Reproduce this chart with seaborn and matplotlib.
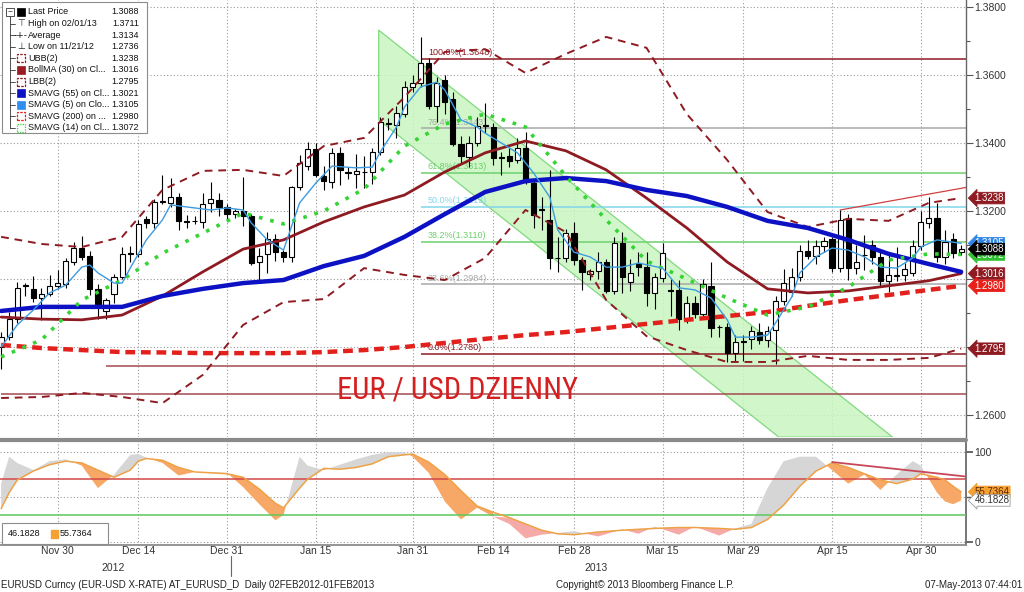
import numpy as np
import pandas as pd
import seaborn as sns
import matplotlib.pyplot as plt
from matplotlib import font_manager
from matplotlib.lines import Line2D
from matplotlib.patches import Rectangle
from matplotlib.ticker import FuncFormatter
import matplotlib.transforms as mtransforms

# trading days on the chart (Bloomberg keeps every weekday)
dates = pd.bdate_range('2012-11-21', '2013-05-07')

open_ = [1.2800, 1.2829, 1.2882, 1.2982, 1.2971, 1.2945, 1.2956, 1.2978, 1.2985, 1.3050,
         1.3091, 1.3068, 1.2971, 1.2906, 1.2956, 1.3006, 1.3076, 1.3073, 1.3177, 1.3165,
         1.3227, 1.3223, 1.3241, 1.3171, 1.3170, 1.3168, 1.3223, 1.3232, 1.3212, 1.3191,
         1.3200, 1.3185, 1.3050, 1.3073, 1.3118, 1.3079, 1.3065, 1.3271, 1.3332, 1.3382,
         1.3303, 1.3285, 1.3371, 1.3315, 1.3309, 1.3316, 1.3315, 1.3374, 1.3456, 1.3453,
         1.3485, 1.3565, 1.3576, 1.3635, 1.3509, 1.3585, 1.3530, 1.3397, 1.3359, 1.3400,
         1.3452, 1.3447, 1.3358, 1.3362, 1.3350, 1.3385, 1.3282, 1.3205, 1.3174, 1.3063,
         1.3062, 1.3135, 1.3056, 1.3015, 1.3024, 1.3050, 1.2965, 1.3106, 1.2991, 1.3047,
         1.3035, 1.2959, 1.3003, 1.2968, 1.2968, 1.2882, 1.2930, 1.2897, 1.2980, 1.2860,
         1.2859, 1.2782, 1.2817, 1.2824, 1.2844, 1.2821, 1.2850, 1.2935, 1.2962, 1.3006,
         1.3082, 1.3068, 1.3097, 1.3118, 1.3033, 1.3180, 1.3033, 1.3072, 1.3100, 1.3065,
         1.2994, 1.3010, 1.3012, 1.3018, 1.3097, 1.3165, 1.3180, 1.3065, 1.3118, 1.3078]
high = [1.2845, 1.2903, 1.2991, 1.2988, 1.3009, 1.2974, 1.3012, 1.3027, 1.3062, 1.3109,
        1.3127, 1.3082, 1.2985, 1.2945, 1.3015, 1.3094, 1.3097, 1.3174, 1.3185, 1.3235,
        1.3306, 1.3297, 1.3253, 1.3188, 1.3185, 1.3253, 1.3285, 1.3253, 1.3220, 1.3206,
        1.3300, 1.3190, 1.3091, 1.3138, 1.3132, 1.3085, 1.3275, 1.3365, 1.3403, 1.3400,
        1.3332, 1.3385, 1.3388, 1.3330, 1.3368, 1.3362, 1.3385, 1.3477, 1.3474, 1.3509,
        1.3582, 1.3600, 1.3711, 1.3650, 1.3594, 1.3600, 1.3550, 1.3420, 1.3420, 1.3477,
        1.3518, 1.3460, 1.3374, 1.3385, 1.3415, 1.3432, 1.3290, 1.3241, 1.3321, 1.3124,
        1.3147, 1.3168, 1.3065, 1.3030, 1.3080, 1.3060, 1.3124, 1.3138, 1.3060, 1.3080,
        1.3080, 1.3018, 1.3106, 1.3000, 1.2997, 1.2950, 1.2950, 1.3000, 1.3050, 1.2865,
        1.2870, 1.2835, 1.2835, 1.2862, 1.2870, 1.2862, 1.2950, 1.3030, 1.3033, 1.3100,
        1.3115, 1.3115, 1.3124, 1.3124, 1.3203, 1.3190, 1.3100, 1.3130, 1.3115, 1.3082,
        1.3080, 1.3094, 1.3047, 1.3115, 1.3200, 1.3242, 1.3224, 1.3144, 1.3135, 1.3100]
low = [1.2736, 1.2821, 1.2870, 1.2950, 1.2932, 1.2880, 1.2950, 1.2970, 1.2975, 1.3040,
       1.3055, 1.2953, 1.2882, 1.2882, 1.2930, 1.3000, 1.3050, 1.3065, 1.3150, 1.3150,
       1.3220, 1.3212, 1.3145, 1.3150, 1.3162, 1.3150, 1.3197, 1.3185, 1.3170, 1.3180,
       1.3156, 1.3040, 1.2997, 1.3018, 1.3053, 1.3050, 1.3050, 1.3262, 1.3320, 1.3300,
       1.3262, 1.3268, 1.3277, 1.3294, 1.3268, 1.3268, 1.3280, 1.3365, 1.3438, 1.3415,
       1.3477, 1.3550, 1.3565, 1.3500, 1.3462, 1.3485, 1.3390, 1.3340, 1.3328, 1.3390,
       1.3430, 1.3335, 1.3306, 1.3330, 1.3340, 1.3280, 1.3150, 1.3144, 1.3030, 1.3021,
       1.3050, 1.3040, 1.2968, 1.2997, 1.3000, 1.2960, 1.2955, 1.2959, 1.2965, 1.3010,
       1.2920, 1.2912, 1.2990, 1.2891, 1.2850, 1.2870, 1.2885, 1.2885, 1.2829, 1.2829,
       1.2756, 1.2760, 1.2760, 1.2794, 1.2810, 1.2800, 1.2750, 1.2925, 1.2950, 1.2995,
       1.3059, 1.3044, 1.3080, 1.3020, 1.3020, 1.2997, 1.3015, 1.3027, 1.3045, 1.2980,
       1.2962, 1.2994, 1.2994, 1.3010, 1.3085, 1.3150, 1.3050, 1.3044, 1.3062, 1.3070]
close = [1.2830, 1.2882, 1.2974, 1.2978, 1.2945, 1.2955, 1.2980, 1.2987, 1.3053, 1.3091,
         1.3065, 1.2971, 1.2927, 1.2938, 1.3006, 1.3073, 1.3074, 1.3162, 1.3165, 1.3227,
         1.3230, 1.3241, 1.3171, 1.3169, 1.3171, 1.3220, 1.3235, 1.3212, 1.3191, 1.3200,
         1.3185, 1.3047, 1.3068, 1.3118, 1.3079, 1.3065, 1.3271, 1.3341, 1.3382, 1.3306,
         1.3288, 1.3371, 1.3321, 1.3312, 1.3318, 1.3314, 1.3374, 1.3462, 1.3458, 1.3488,
         1.3565, 1.3576, 1.3635, 1.3509, 1.3576, 1.3521, 1.3397, 1.3362, 1.3400, 1.3450,
         1.3450, 1.3356, 1.3356, 1.3347, 1.3385, 1.3285, 1.3188, 1.3203, 1.3062, 1.3062,
         1.3135, 1.3056, 1.3021, 1.3024, 1.3050, 1.2965, 1.3106, 1.3006, 1.3018, 1.3035,
         1.2959, 1.3006, 1.3076, 1.2966, 1.2882, 1.2930, 1.2897, 1.2985, 1.2856, 1.2858,
         1.2782, 1.2815, 1.2815, 1.2847, 1.2821, 1.2847, 1.2935, 1.2988, 1.3006, 1.3082,
         1.3068, 1.3097, 1.3112, 1.3033, 1.3174, 1.3033, 1.3050, 1.3070, 1.3065, 1.2994,
         1.3012, 1.3012, 1.3030, 1.3097, 1.3168, 1.3180, 1.3065, 1.3109, 1.3077, 1.3088]

# studies, read every 5th trading day
ind_idx = [0, 5, 10, 15, 20, 25, 30, 35, 40, 45, 50, 55, 60, 65, 70, 75, 80, 85, 90, 95,
           100, 105, 110, 115, 119]
sma55 = [1.2906, 1.2918, 1.2918, 1.2918, 1.2950, 1.2971, 1.2988, 1.2997, 1.3038, 1.3068,
         1.3124, 1.3191, 1.3256, 1.3288, 1.3297, 1.3288, 1.3262, 1.3244, 1.3212, 1.3171,
         1.3150, 1.3115, 1.3074, 1.3044, 1.3021]
boll_ma = [1.2888, 1.2882, 1.2880, 1.2894, 1.2950, 1.3021, 1.3088, 1.3115, 1.3168, 1.3212,
           1.3247, 1.3315, 1.3371, 1.3406, 1.3377, 1.3321, 1.3238, 1.3150, 1.3050, 1.2971,
           1.2959, 1.2965, 1.2980, 1.2995, 1.3016]
boll_up = [1.3124, 1.3103, 1.3094, 1.3124, 1.3262, 1.3318, 1.3321, 1.3303, 1.3391, 1.3415,
           1.3535, 1.3668, 1.3676, 1.3606, 1.3662, 1.3712, 1.3680, 1.3485, 1.3350, 1.3197,
           1.3153, 1.3177, 1.3171, 1.3224, 1.3238]
boll_lo = [1.2650, 1.2653, 1.2665, 1.2653, 1.2635, 1.2718, 1.2865, 1.2932, 1.2941, 1.3032,
           1.3012, 1.2997, 1.3062, 1.3203, 1.3138, 1.2938, 1.2832, 1.2791, 1.2756, 1.2756,
           1.2774, 1.2762, 1.2762, 1.2768, 1.2795]
sma200 = [1.2806, 1.2797, 1.2791, 1.2785, 1.2784, 1.2782, 1.2782, 1.2782, 1.2785, 1.2791,
          1.2800, 1.2812, 1.2824, 1.2835, 1.2844, 1.2856, 1.2868, 1.2880, 1.2891, 1.2903,
          1.2921, 1.2938, 1.2953, 1.2968, 1.2980]
sma14 = [1.2771, 1.2821, 1.2938, 1.2997, 1.3076, 1.3135, 1.3194, 1.3162, 1.3200, 1.3265,
         1.3391, 1.3456, 1.3485, 1.3447, 1.3303, 1.3174, 1.3053, 1.3000, 1.2944, 1.2894,
         1.2918, 1.2976, 1.3056, 1.3074, 1.3072]
sma5_idx = [0, 2, 4, 6, 8, 10, 11, 12, 14, 15, 16, 18, 20, 21, 23, 26, 28, 30, 31, 33,
            35, 37, 39, 41, 44, 46, 47, 49, 50, 52, 54, 55, 57, 59, 60, 62, 64, 66, 68, 69,
            71, 73, 75, 77, 79, 82, 84, 86, 88, 90, 91, 93, 95, 96, 98, 99, 100, 101, 103, 105,
            107, 109, 111, 113, 114, 116, 119]
sma5 = [1.2800, 1.2865, 1.2909, 1.2959, 1.2982, 1.3035, 1.3041, 1.3018, 1.2988, 1.2988,
        1.3032, 1.3115, 1.3174, 1.3218, 1.3212, 1.3203, 1.3209, 1.3203, 1.3165, 1.3115,
        1.3085, 1.3224, 1.3282, 1.3332, 1.3327, 1.3329, 1.3374, 1.3447, 1.3506, 1.3565,
        1.3579, 1.3556, 1.3468, 1.3447, 1.3429, 1.3400, 1.3371, 1.3312, 1.3241, 1.3144,
        1.3079, 1.3065, 1.3035, 1.3035, 1.3047, 1.3032, 1.2974, 1.2968, 1.2944, 1.2880,
        1.2829, 1.2829, 1.2835, 1.2871, 1.2947, 1.3018, 1.3041, 1.3065, 1.3091, 1.3085,
        1.3065, 1.3035, 1.3032, 1.3062, 1.3094, 1.3115, 1.3105]

# stochastic panel
stoch_idx = [0, 1, 2, 4, 6, 8, 10, 12, 14, 16, 17, 18, 20, 22, 24, 26, 28, 30, 32, 34,
             35, 37, 38, 40, 42, 44, 46, 48, 50, 51, 53, 55, 57, 59, 61, 63, 65, 67, 69, 71,
             74, 77, 79, 81, 84, 86, 89, 91, 93, 95, 97, 99, 101, 103, 105, 107, 109, 111, 113, 114,
             116, 117, 118, 119]
stoch_d = [37, 55, 69, 79, 86, 90, 88, 80, 72, 80, 90, 93, 91, 83, 78, 77, 76, 72, 59, 43,
           38, 60, 70, 82, 81, 83, 87, 95, 97, 98, 89, 75, 57, 40, 33, 27, 20, 13, 9, 8,
           11, 13, 14, 15, 16, 16, 15, 14, 16, 25, 41, 62, 79, 88, 83, 76, 69, 65, 70, 76,
           72, 69, 62, 55.7364]
stoch_k = [65, 95, 88, 80, 90, 92, 85, 60, 75, 97, 98, 94, 88, 74, 78, 78, 77, 61, 42, 24,
           30, 95, 85, 80, 86, 92, 97, 100, 100, 95, 77, 45, 25, 38, 28, 20, 4, 8, 10, 12,
           6, 14, 9, 17, 8, 17, 7, 15, 20, 60, 90, 95, 95, 80, 65, 75, 58, 75, 90, 85,
           55, 45, 42, 46.1828]
stoch_levels = [70, 30]
osc_trend_idx = [103, 120]
osc_trend_val = [89, 72.5]

# analyst drawings
fib_start = 52
fib_levels = [1.3648, 1.3443, 1.3313, 1.3213, 1.3110, 1.2984, 1.2780]
fib_labels = ['100.0%(1.3648)', '76.4%(1.3443)', '61.8%(1.3313)', '50.0%(1.3213)',
              '38.2%(1.3110)', '23.6%(1.2984)', '0.0%(1.2780)']
support_levels = [1.2744, 1.2662]
support_start = [13, 0]
trend_idx = [104, 120]
trend_px = [1.3203, 1.3271]
channel_idx = [46.8, 110.5, 96.4, 46.8]
channel_px = [1.3732, 1.2535, 1.2535, 1.3468]

tick_dates = ['2012-11-30', '2012-12-14', '2012-12-31', '2013-01-15', '2013-01-31',
              '2013-02-14', '2013-02-28', '2013-03-15', '2013-03-29', '2013-04-15', '2013-04-30']
tick_labels = ['Nov 30', 'Dec 14', 'Dec 31', 'Jan 15', 'Jan 31', 'Feb 14', 'Feb 28',
               'Mar 15', 'Mar 29', 'Apr 15', 'Apr 30']
hidden_price_labels = [1.28, 1.30]   # covered by the value tags on the original

legend_labels = ['Last Price', 'High on 02/01/13', 'Average', 'Low on 11/21/12', 'UBB(2)',
                 'BollMA (30) on Cl...', 'LBB(2)', 'SMAVG (55) on Cl...', 'SMAVG (5) on Clo...',
                 'SMAVG (200) on ...', 'SMAVG (14) on Cl...']
legend_values = ['1.3088', '1.3711', '1.3134', '1.2736', '1.3238', '1.3016', '1.2795',
                 '1.3021', '1.3105', '1.2980', '1.3072']

# ---------------------------------------------------------------------------
sns.set_theme(style='white')
plt.rcParams['font.family'] = ['Liberation Sans', 'DejaVu Sans']

# narrow face for the big caption if there is one
installed = {f.name for f in font_manager.fontManager.ttflist}
narrow = [n for n in ('Liberation Sans Narrow', 'Roboto Condensed') if n in installed]
if narrow:
    title_font, title_size = [narrow[0], 'DejaVu Sans'], 22
else:
    title_font, title_size = ['Liberation Sans', 'DejaVu Sans'], 18.5

W, H = 1024, 592
fig = plt.figure(figsize=(W / 100, H / 100), dpi=100)


def fx(px):
    return px / W


def fy(py):
    return 1 - py / H


ax = fig.add_axes([0, fy(437), fx(966), 437 / H])
ax2 = fig.add_axes([0, fy(545), fx(966), (545 - 441) / H])

x = np.arange(len(dates))
o, h, l, c = map(np.array, (open_, high, low, close))
tick_pos = [dates.get_loc(pd.Timestamp(d)) for d in tick_dates]

DRED = '#8e1b22'
GRID = dict(color='#9a9a9a', lw=0.8, ls=(0, (1, 2)))

# channel
ax.fill(channel_idx, channel_px, fc='#c9f5c0', ec='#6fd36f', lw=0.9, alpha=0.85, zorder=1)

# fibonacci + support lines
fib_colors = [DRED, '#a8a8a8', '#6fcf6f', '#7fd6ea', '#6fcf6f', '#a8a8a8', DRED]
for lev, lab, col in zip(fib_levels, fib_labels, fib_colors):
    ax.hlines(lev, fib_start, 120, color=col, lw=1.1, zorder=2)
    ax.text(fib_start + 0.9, lev + 0.0004, lab, color=col, fontsize=6.5,
            va='bottom', ha='left', zorder=2)
for lev, st in zip(support_levels, support_start):
    ax.hlines(lev, st, 120, color='#a34a50', lw=1.1, zorder=2)
ax.plot(trend_idx, trend_px, color='#d04040', lw=0.9, zorder=2)

# candles
up = c >= o
ax.vlines(x, l, h, color='black', lw=0.8, zorder=3)
ax.bar(x[up], c[up] - o[up], bottom=o[up], width=0.64, color='white',
       edgecolor='black', lw=0.8, zorder=4)
ax.bar(x[~up], o[~up] - c[~up], bottom=c[~up], width=0.64, color='black',
       edgecolor='black', lw=0.8, zorder=4)

# studies
ind = pd.DataFrame({'idx': ind_idx, 'sma55': sma55, 'boll_ma': boll_ma, 'boll_up': boll_up,
                    'boll_lo': boll_lo, 'sma200': sma200, 'sma14': sma14})
s5 = pd.DataFrame({'idx': sma5_idx, 'sma5': sma5})
sns.lineplot(data=ind, x='idx', y='sma200', ax=ax, color='#e3211c', lw=3.2,
             ls=(0, (2.2, 1.3)), zorder=5)
sns.lineplot(data=ind, x='idx', y='boll_ma', ax=ax, color=DRED, lw=2.0, zorder=5)
sns.lineplot(data=ind, x='idx', y='boll_up', ax=ax, color=DRED, lw=1.4, ls=(0, (4, 3)), zorder=5)
sns.lineplot(data=ind, x='idx', y='boll_lo', ax=ax, color=DRED, lw=1.4, ls=(0, (4, 3)), zorder=5)
sns.lineplot(data=ind, x='idx', y='sma55', ax=ax, color='#0c12c4', lw=3.2, zorder=6)
sns.lineplot(data=ind, x='idx', y='sma14', ax=ax, color='#35d435', lw=2.6,
             ls=(0, (1, 2.2)), zorder=6)
sns.lineplot(data=s5, x='idx', y='sma5', ax=ax, color='#3d9be0', lw=1.0, zorder=6)

ax.text(0.474, 0.107, 'EUR / USD DZIENNY', transform=ax.transAxes, ha='center', va='center',
        color='#d42020', fontsize=title_size, family=title_font, zorder=7)

ax.set_xlim(-0.14, 119.6)
ax.set_ylim(1.25353, 1.38206)
ax.set_xticks(tick_pos)
ax.set_yticks(np.arange(1.26, 1.3801, 0.02))
ax.set_yticks(np.arange(1.27, 1.3801, 0.02), minor=True)
ax.yaxis.set_major_formatter(FuncFormatter(
    lambda v, p: '' if any(abs(v - hv) < 1e-6 for hv in hidden_price_labels) else f'{v:.4f}'))
ax.yaxis.tick_right()
ax.tick_params(axis='x', length=0, labelbottom=False)
ax.tick_params(axis='y', which='both', direction='out', length=5, width=0.8, color='#555',
               labelsize=7.5, labelcolor='#333', pad=1, right=True)
ax.tick_params(axis='y', which='minor', length=3)
ax.grid(True, which='major', **GRID)
ax.set_xlabel('')
ax.set_ylabel('')
for s in ('left', 'top', 'bottom'):
    ax.spines[s].set_visible(False)
ax.spines['right'].set_color('#666')
ax.spines['right'].set_linewidth(1.0)


def tag(axis, val, txt, fc, tc, ec=None):
    axis.annotate(txt, xy=(1, val), xycoords=axis.get_yaxis_transform(), xytext=(6, 0),
                  textcoords='offset points', ha='left', va='center', fontsize=7, color=tc,
                  annotation_clip=False, zorder=30,
                  bbox=dict(boxstyle='larrow,pad=0.08', fc=fc, ec=ec or fc, lw=0.6))


tag(ax, 1.3238, '1.3238', DRED, 'white')
tag(ax, 1.3105, '1.3105', '#2f86e8', 'white')
tag(ax, 1.3072, '1.3072', '#30c030', 'white')
tag(ax, 1.3088, '1.3088', 'black', 'white')
tag(ax, 1.3016, '1.3016', DRED, 'white')
tag(ax, 1.2980, '1.2980', '#e8201a', 'white')
tag(ax, 1.2795, '1.2795', DRED, 'white')

# stochastic panel
si = np.array(stoch_idx, dtype=float)
kk = np.array(stoch_k, dtype=float)
dd = np.array(stoch_d, dtype=float)
ax2.fill_between(si, kk, dd, where=kk >= dd, interpolate=True, color='#d6d6d6', lw=0, zorder=2)
ax2.fill_between(si, kk, dd, where=(kk < dd) & (dd >= 32), interpolate=True,
                 color='#f8a866', lw=0, zorder=2)
ax2.fill_between(si, kk, dd, where=(kk < dd) & (dd < 32), interpolate=True,
                 color='#f6aaa8', lw=0, zorder=2)
st = pd.DataFrame({'idx': stoch_idx, 'd': stoch_d})
sns.lineplot(data=st, x='idx', y='d', ax=ax2, color='#eea247', lw=1.1, zorder=4)
ax2.axhline(stoch_levels[0], color='#d04848', lw=1.1, zorder=3)
ax2.axhline(stoch_levels[1], color='#5cc85c', lw=1.1, zorder=3)
ax2.plot(osc_trend_idx, osc_trend_val, color='#c8485a', lw=1.3, zorder=5)

ax2.set_xlim(-0.14, 119.6)
ax2.set_ylim(-3.5, 112.5)
ax2.set_xticks(tick_pos, tick_labels)
ax2.set_yticks([0, 100])
ax2.set_yticks([50], minor=True)
ax2.yaxis.tick_right()
ax2.tick_params(axis='x', length=3, direction='in', color='#555', labelsize=7.5,
                labelcolor='#333', pad=0.5)
ax2.tick_params(axis='y', which='both', direction='out', length=5, color='#555',
                labelsize=7.5, labelcolor='#333', pad=1, right=True)
ax2.grid(True, axis='x', **GRID)
for v in (0, 50, 100):
    ax2.axhline(v, zorder=1, **GRID)
ax2.set_xlabel('')
ax2.set_ylabel('')
for s in ('left', 'top'):
    ax2.spines[s].set_visible(False)
ax2.spines['right'].set_color('#666')
ax2.spines['bottom'].set_color('#888')

tag(ax2, 55.7364, '55.7364', '#f5a033', '#5a2a00')
tag(ax2, 46.1828, '46.1828', 'white', '#333', ec='#999')

# panel separator
fig.add_artist(Line2D([0, fx(966)], [fy(439.5), fy(439.5)], color='#8a8a8a', lw=3))

# legend boxes
fig.add_artist(Rectangle((fx(2), fy(133)), fx(145), 131 / H, transform=fig.transFigure,
                         fc='white', ec='#8c8c8c', lw=0.8, zorder=20))
icon_fill = {0: 'black', 5: '#9b1c22', 7: '#0c12c4', 8: '#2f8ff0'}
icon_line = {4: (DRED, (0, (2, 1))), 6: (DRED, (0, (2, 1))), 9: ('#e3211c', (0, (2, 1))),
             10: ('#35d435', (0, (1, 1)))}
fig.add_artist(Line2D([fx(10), fx(10)], [fy(16), fy(128)], color='#333', lw=0.6, zorder=21))
fig.add_artist(Rectangle((fx(6), fy(16)), fx(8), 8 / H, transform=fig.transFigure,
                         fc='white', ec='#333', lw=0.6, zorder=22))
fig.text(fx(10), fy(12), '−', fontsize=6, ha='center', va='center', color='#333', zorder=23)
for k, (lab, val) in enumerate(zip(legend_labels, legend_values)):
    yy = 12 + 11.6 * k
    if k > 0:
        fig.add_artist(Line2D([fx(10), fx(15)], [fy(yy), fy(yy)], color='#333', lw=0.6,
                              zorder=21))
    if k in icon_fill:
        fig.add_artist(Rectangle((fx(17), fy(yy + 4)), fx(8), 8 / H, transform=fig.transFigure,
                                 fc=icon_fill[k], ec=icon_fill[k], lw=0.5, zorder=22))
    elif k in icon_line:
        col, ls = icon_line[k]
        fig.add_artist(Rectangle((fx(17), fy(yy + 4)), fx(8), 8 / H, transform=fig.transFigure,
                                 fc='white', ec=col, lw=0.9, ls=ls, zorder=22))
    else:
        sym = {1: '⊤', 2: '-+-', 3: '⊥'}[k]
        fig.text(fx(21), fy(yy), sym, fontsize=6.5, ha='center', va='center', color='#222',
                 family=['DejaVu Sans'], zorder=23)
    fig.text(fx(28), fy(yy), lab, fontsize=6.5, va='center', ha='left', color='#111', zorder=23)
    fig.text(fx(139), fy(yy), val, fontsize=6.5, va='center', ha='right', color='#111',
             zorder=23)

fig.add_artist(Rectangle((fx(2), fy(544)), fx(106), 21 / H, transform=fig.transFigure,
                         fc='white', ec='#8c8c8c', lw=0.8, zorder=20))
fig.text(fx(8), fy(534), '46.1828', fontsize=6.5, va='center', ha='left', color='#111', zorder=23)
fig.add_artist(Rectangle((fx(51), fy(538)), fx(7), 8 / H, transform=fig.transFigure,
                         fc='#f5a033', ec='#f5a033', zorder=22))
fig.text(fx(60), fy(534), '55.7364', fontsize=6.5, va='center', ha='left', color='#111', zorder=23)

# years and footer
fig.text(fx(113), fy(568), '2012', fontsize=7.5, ha='center', va='center', color='#333')
fig.text(fx(596), fy(568), '2013', fontsize=7.5, ha='center', va='center', color='#333')
sep = mtransforms.blended_transform_factory(ax2.transData, fig.transFigure)
fig.add_artist(Line2D([28.5, 28.5], [fy(556), fy(576)], transform=sep, color='#666', lw=0.8))
fig.text(fx(1), fy(585), 'EURUSD Curncy (EUR-USD X-RATE) AT_EURUSD_D  Daily 02FEB2012-01FEB2013',
         fontsize=7, ha='left', va='center', color='#222')
fig.text(fx(645), fy(585), 'Copyright© 2013 Bloomberg Finance L.P.', fontsize=7,
         ha='center', va='center', color='#222')
fig.text(fx(1022), fy(585), '07-May-2013 07:44:01', fontsize=7, ha='right', va='center',
         color='#222')

fig.savefig('out.png', dpi=100, facecolor='white')
